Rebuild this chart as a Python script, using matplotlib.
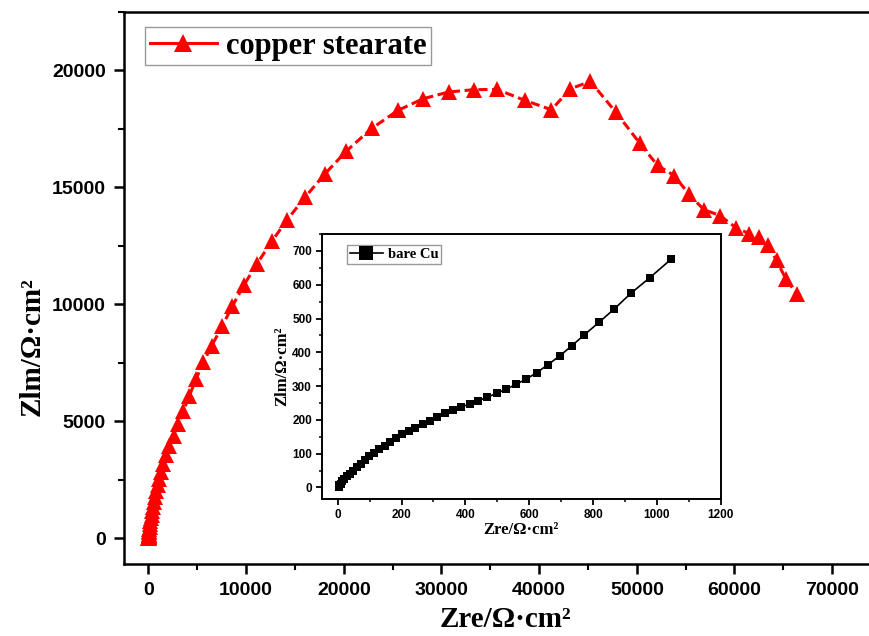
import matplotlib
matplotlib.use("Agg")
import matplotlib.pyplot as plt
from matplotlib.lines import Line2D
from matplotlib.ticker import MultipleLocator

# copper stearate (main plot)
zre_cs = [8, 10, 14, 18, 22, 28, 35, 45, 55, 70, 90, 110, 140, 170, 210, 260,
          320, 390, 470, 570, 680, 800, 950, 1100, 1300, 1540, 1800, 2150,
          2600, 3070, 3590, 4200, 4890, 5640, 6490, 7550, 8570, 9760, 11070,
          12630, 14210, 16050, 18030, 20250, 22850, 25530, 28100, 30740,
          33300, 35690, 38560, 41260, 43200, 45250, 47850, 50300, 52120,
          53820, 55360, 56860, 58500, 60140, 61510, 62530, 63390, 64310,
          65240, 66360]
zim_cs = [3, 10, 20, 35, 55, 80, 110, 150, 200, 260, 330, 410, 500, 600, 720,
          850, 1000, 1170, 1350, 1560, 1780, 2020, 2280, 2550, 2850, 3180,
          3540, 3960, 4390, 4890, 5460, 6100, 6820, 7530, 8240, 9060, 9910,
          10810, 11710, 12690, 13620, 14590, 15560, 16550, 17520, 18290,
          18790, 19080, 19180, 19190, 18720, 18320, 19220, 19530, 18220,
          16890, 15940, 15510, 14700, 14050, 13800, 13280, 13020, 12870,
          12520, 11880, 11100, 10450]

# bare Cu (inset)
zre_cu = [5, 5, 9, 15, 21, 28, 38, 48, 60, 72, 86, 99, 115, 131, 148, 164,
          183, 202, 223, 243, 266, 288, 311, 336, 361, 386, 413, 440, 469,
          498, 528, 560, 591, 624, 658, 695, 733, 773, 819, 866, 919, 978,
          1044]
zim_cu = [0, 6, 11, 18, 25, 33, 41, 50, 60, 71, 81, 92, 103, 113, 124, 135,
          146, 157, 168, 177, 188, 198, 209, 220, 229, 238, 247, 257, 267,
          279, 291, 306, 321, 340, 363, 389, 419, 452, 489, 528, 575, 621,
          675]

serif_b = {"family": "Liberation Serif", "weight": "bold"}
plt.rcParams["font.family"] = "Liberation Sans"
plt.rcParams["font.weight"] = "bold"

fig = plt.figure(figsize=(8.7, 6.36), dpi=100)
ax = fig.add_axes([0.1425, 0.1132, 0.8814, 0.8679])

ax.plot(zre_cs, zim_cs, color="red", linestyle=(0, (3, 1.5)), linewidth=2.2,
        marker="^", markersize=11, markeredgewidth=0)
ax.set_xlim(-2500, 76000)
ax.set_ylim(-1100, 22500)
ax.xaxis.set_major_locator(MultipleLocator(10000))
ax.xaxis.set_minor_locator(MultipleLocator(5000))
ax.yaxis.set_major_locator(MultipleLocator(5000))
ax.yaxis.set_minor_locator(MultipleLocator(2500))
ax.tick_params(which="major", direction="out", length=7, width=1.8,
               labelsize=14, pad=6)
ax.tick_params(which="minor", direction="out", length=4, width=1.5)
for s in ax.spines.values():
    s.set_linewidth(1.8)

ax.set_xlabel("Zre/Ω·cm²", fontdict=dict(serif_b, size=21))
ax.set_ylabel("Zlm/Ω·cm²", fontdict=dict(serif_b, size=21))
ax.xaxis.set_label_coords(505 / 870, 1 - 606 / 636, transform=fig.transFigure)
ax.yaxis.set_label_coords(46 / 870, 1 - 347 / 636, transform=fig.transFigure)

h1 = Line2D([], [], color="red", linewidth=2.2, marker="^", markersize=13,
            markeredgewidth=0)
leg = ax.legend([h1], ["copper stearate"], loc="upper left",
                bbox_to_anchor=(145 / 870, 1 - 27 / 636),
                bbox_transform=fig.transFigure, borderaxespad=0,
                prop=dict(serif_b, size=22), handlelength=2.2,
                borderpad=0.15, handletextpad=0.3, fancybox=False)
leg.get_frame().set_edgecolor("gray")
leg.get_frame().set_linewidth(1.0)

# inset
ins = fig.add_axes([0.3698, 0.2149, 0.4586, 0.4171])
ins.plot(zre_cu, zim_cu, color="black", linewidth=1.2, marker="s",
         markersize=6, markeredgewidth=0)
ins.set_xlim(-50, 1200)
ins.set_ylim(-35, 750)
ins.xaxis.set_major_locator(MultipleLocator(200))
ins.xaxis.set_minor_locator(MultipleLocator(100))
ins.yaxis.set_major_locator(MultipleLocator(100))
ins.yaxis.set_minor_locator(MultipleLocator(50))
ins.tick_params(which="major", direction="out", length=4, width=1.3,
                labelsize=8.5, pad=3)
ins.tick_params(which="minor", direction="out", length=2.5, width=1.1)
for s in ins.spines.values():
    s.set_linewidth(1.4)
ins.set_xlabel("Zre/Ω·cm²", fontdict=dict(serif_b, size=12), labelpad=1)
ins.set_ylabel("Zlm/Ω·cm²", fontdict=dict(serif_b, size=12), labelpad=1)

h2 = Line2D([], [], color="black", linewidth=1.2, marker="s", markersize=10,
            markeredgewidth=0)
leg2 = ins.legend([h2], ["bare Cu"], loc="upper left",
                  bbox_to_anchor=(346.7 / 870, 1 - 245 / 636),
                  bbox_transform=fig.transFigure, borderaxespad=0,
                  prop=dict(serif_b, size=10.5), handlelength=2.3,
                  borderpad=0.2, handletextpad=0.3, fancybox=False)
leg2.get_frame().set_edgecolor("gray")
leg2.get_frame().set_linewidth(1.0)

fig.savefig("out.png", dpi=100)
